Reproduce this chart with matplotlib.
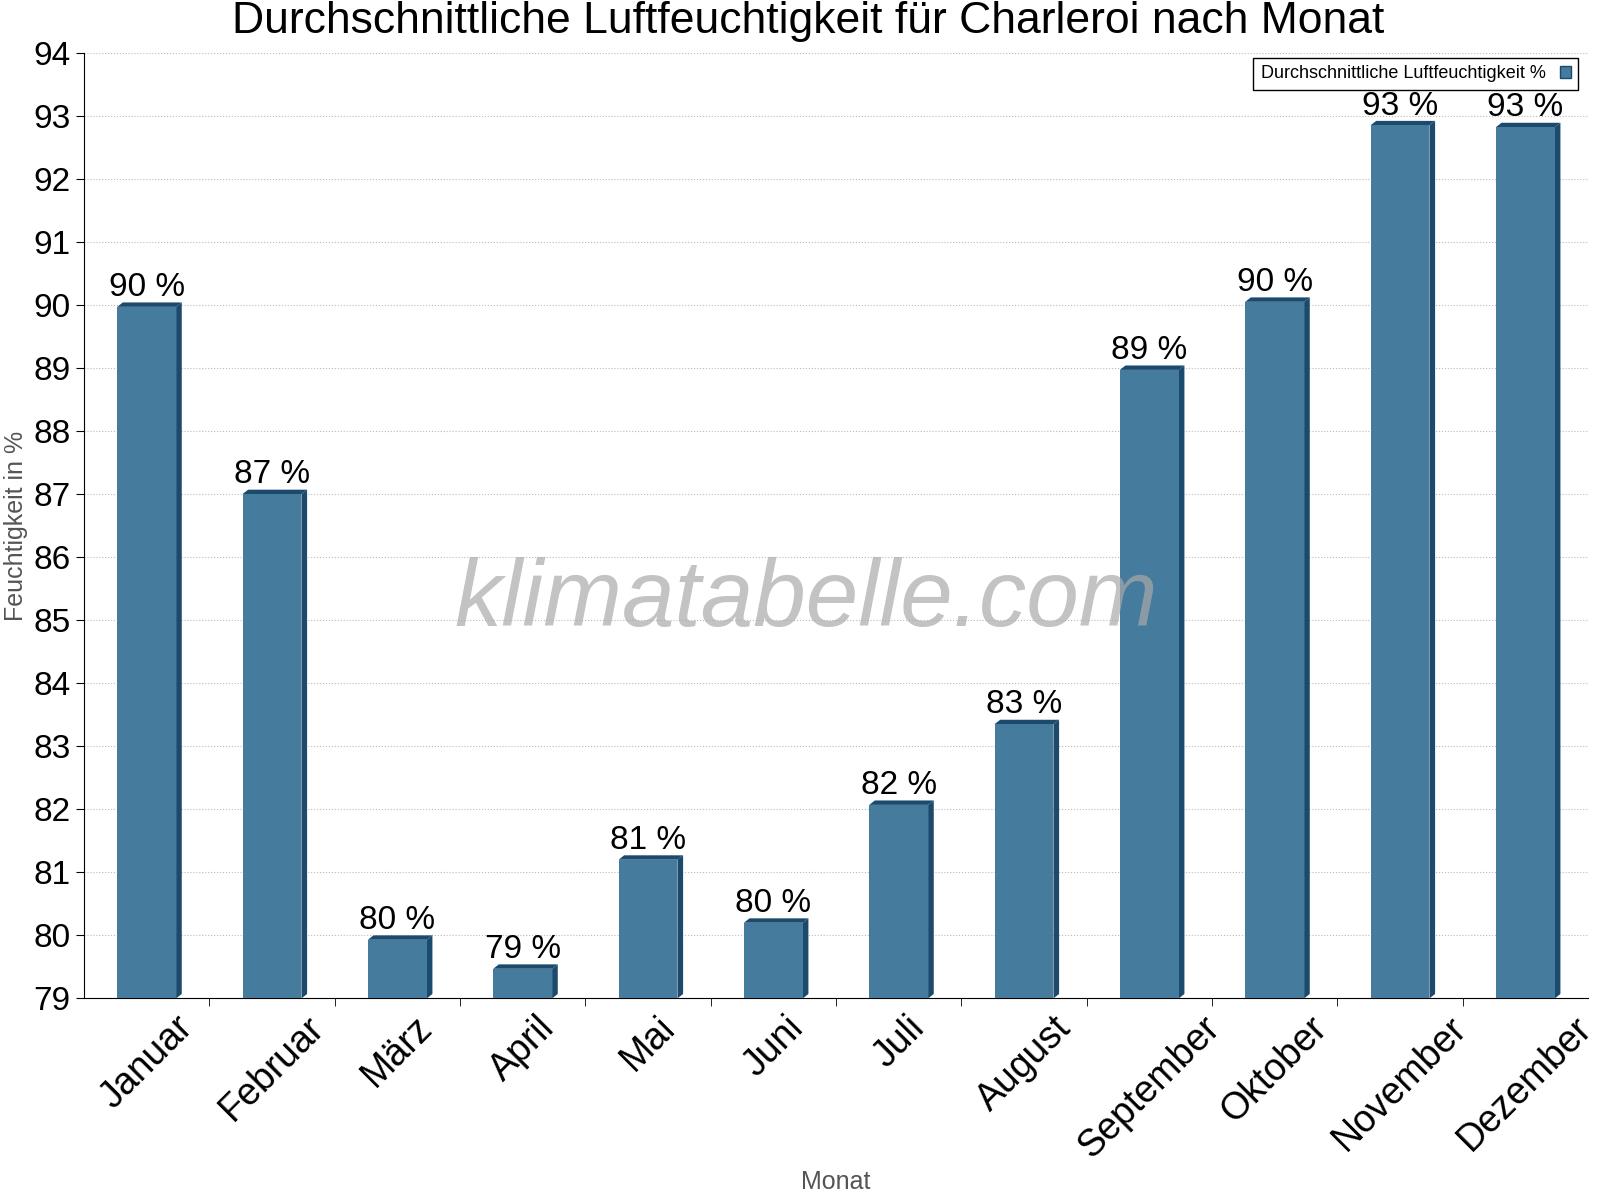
import numpy as np
import matplotlib.pyplot as plt

plt.rcParams['font.family'] = 'Liberation Sans'

months = ['Januar', 'Februar', 'März', 'April', 'Mai', 'Juni', 'Juli',
          'August', 'September', 'Oktober', 'November', 'Dezember']
humidity = [89.97, 87.0, 79.93, 79.47, 81.2, 80.2, 82.07, 83.35, 88.97, 90.05, 92.85, 92.82]
labels = ['90 %', '87 %', '80 %', '79 %', '81 %', '80 %', '82 %', '83 %', '89 %', '90 %', '93 %', '93 %']

front = '#457b9d'
dark = '#1b4a6c'
base = 79
w = 0.47
dx = 0.045
dy = 0.07

fig = plt.figure(figsize=(16, 12), dpi=100)
ax = fig.add_axes([0.0525, 0.168, 0.94, 0.788])

x = np.arange(len(months))
for xi, v, lab in zip(x, humidity, labels):
    # right side face
    ax.fill([xi + w/2, xi + w/2 + dx, xi + w/2 + dx, xi + w/2],
            [base, base + dy, v + dy, v], color=dark, zorder=3, lw=0)
    # top face
    ax.fill([xi - w/2, xi - w/2 + dx, xi + w/2 + dx, xi + w/2],
            [v, v + dy, v + dy, v], color=dark, zorder=3, lw=0)
    ax.bar(xi, v - base, bottom=base, width=w, color=front, zorder=4, lw=0)
    ax.text(xi, v + 0.06, lab, ha='center', va='bottom', fontsize=24, zorder=6)

ax.set_xlim(-0.5, 11.5)
ax.set_ylim(79, 94)
ax.set_yticks(range(79, 95))
ax.tick_params(axis='y', labelsize=24, length=6)
ax.set_xticks(x)
ax.set_xticklabels(months, rotation=45, fontsize=27)
ax.tick_params(axis='x', length=0, pad=8)
ax.set_xticks(np.arange(0.5, 11.5, 1), minor=True)
ax.tick_params(axis='x', which='minor', length=6)
ax.grid(axis='y', linestyle=':', color='#bbbbbb', zorder=0)
for s in ['top', 'right']:
    ax.spines[s].set_visible(False)

ax.set_xlabel('Monat', fontsize=18, color='#555555', labelpad=4)
ax.set_ylabel('Feuchtigkeit in %', fontsize=18, color='#555555')
fig.text(0.505, 0.982, 'Durchschnittliche Luftfeuchtigkeit für Charleroi nach Monat',
         ha='center', va='center', fontsize=32)
ax.text(0.48, 0.42, 'klimatabelle.com', transform=ax.transAxes, ha='center', va='center',
        fontsize=68, style='italic', color='#aaaaaa', alpha=0.7, zorder=7)

leg = ax.legend(handles=[plt.Rectangle((0, 0), 1, 1, facecolor=front, edgecolor=dark)],
                labels=['Durchschnittliche Luftfeuchtigkeit %'], loc='upper right',
                bbox_to_anchor=(0.997, 1.0), fontsize=13, fancybox=False, framealpha=1,
                edgecolor='black', markerfirst=False, handlelength=0.6,
                borderaxespad=0.3)
leg.set_zorder(5)

fig.savefig('out.png')
